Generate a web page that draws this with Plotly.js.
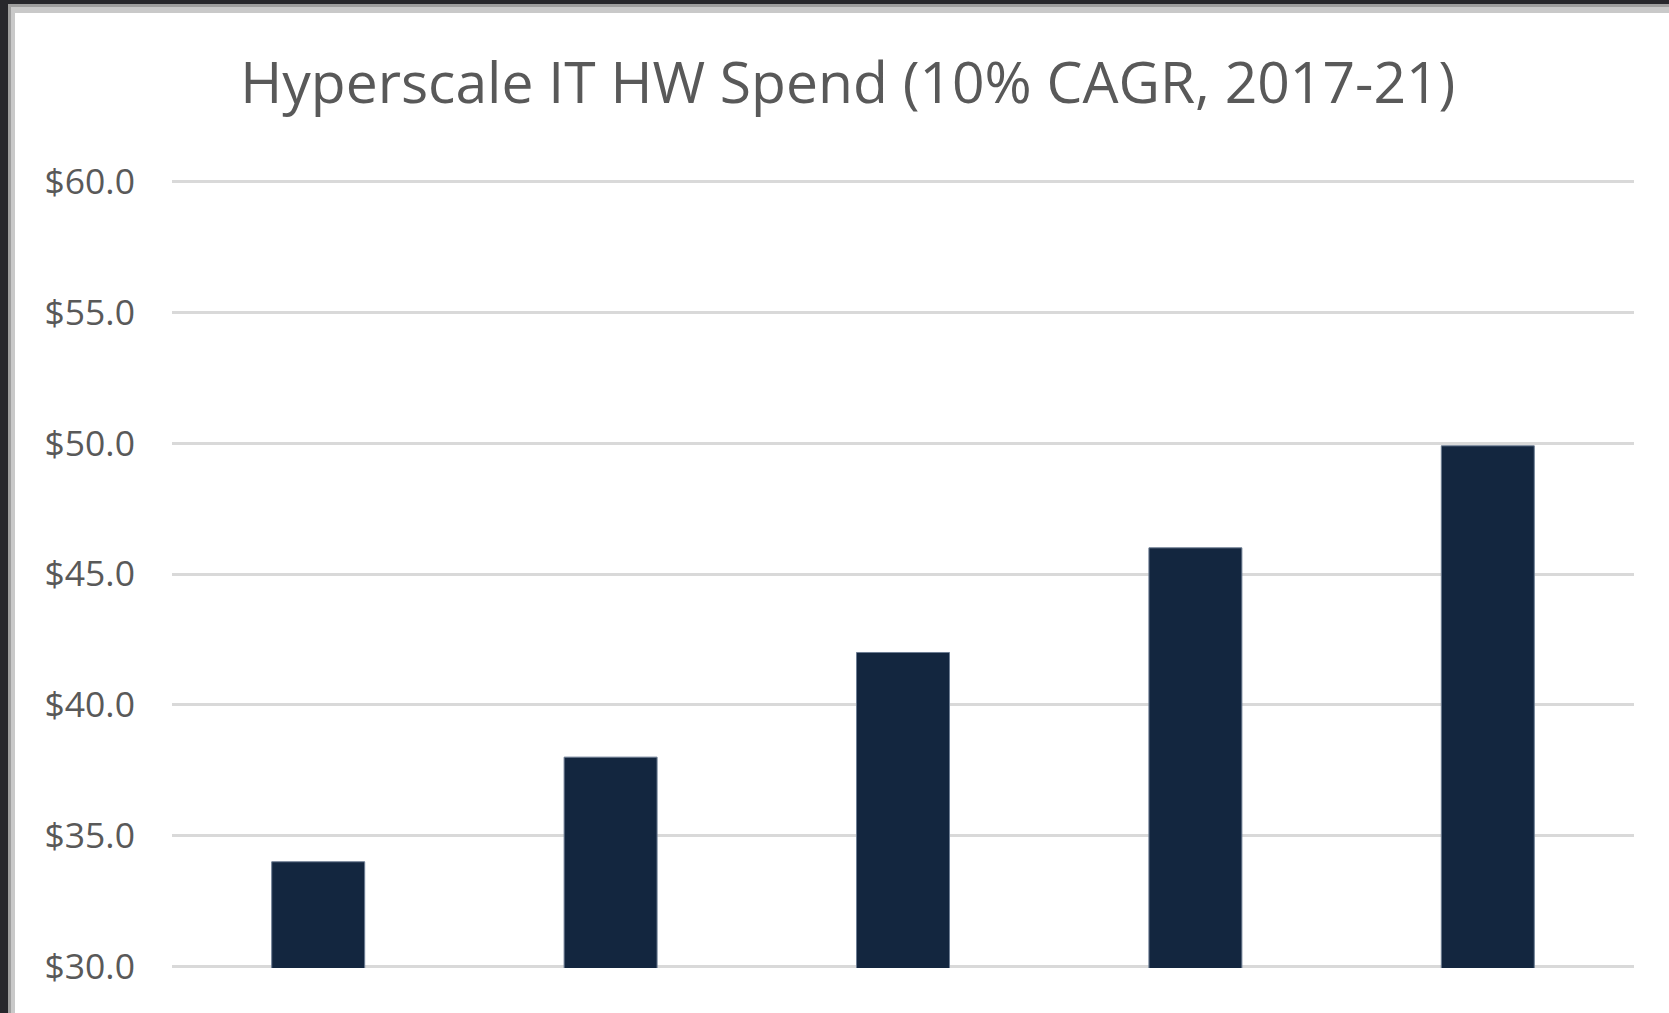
<!DOCTYPE html>
<html>
<head>
<meta charset="utf-8">
<script src="https://cdn.plot.ly/plotly-3.0.1.min.js"></script>
<style>
  html, body { margin: 0; padding: 0; background: #27272c; width: 1669px; height: 1013px; overflow: hidden; }
  #frame { position: absolute; left: 8px; top: 4px; width: 1661px; height: 1009px;
           background: #c9c9c9; border-left: 3px solid #9e9e9e; border-top: 3px solid #9e9e9e; box-sizing: border-box; }
  #chart { position: absolute; left: 15px; top: 13px; width: 1654px; height: 1000px; background: #ffffff; }
</style>
</head>
<body>
<div id="frame"></div>
<div id="chart"></div>
<script>
const years = ['2017', '2018', '2019', '2020', '2021'];
const spend = [34.0, 38.0, 42.0, 46.0, 49.9];
const tickValues = [30, 35, 40, 45, 50, 55, 60];
const tickLabels = ['$30.0', '$35.0', '$40.0', '$45.0', '$50.0', '$55.0', '$60.0'];
const chartTitle = 'Hyperscale IT HW Spend (10% CAGR, 2017-21)';

const trace = {
  type: 'bar',
  x: years,
  y: spend,
  marker: { color: '#13263f', line: { color: '#6d7d93', width: 1 } },
  hoverinfo: 'x+y'
};

const layout = {
  width: 1654,
  height: 1000,
  paper_bgcolor: '#ffffff',
  plot_bgcolor: '#ffffff',
  margin: { l: 157, r: 35, t: 167, b: 45 },
  bargap: 0.682,
  showlegend: false,
  font: { family: 'Open Sans, sans-serif', color: '#595959' },
  title: {
    text: chartTitle,
    font: { family: 'Open Sans, sans-serif', size: 57, color: '#595959' },
    xref: 'container', yref: 'container',
    x: 0.5035, xanchor: 'center',
    y: 0.93, yanchor: 'middle'
  },
  xaxis: {
    type: 'category',
    showticklabels: false,
    showgrid: false,
    zeroline: false,
    showline: false,
    ticks: ''
  },
  yaxis: {
    range: [29.94, 60.06],
    tickmode: 'array',
    tickvals: tickValues,
    ticktext: tickLabels,
    showgrid: true,
    gridcolor: '#d9d9d9',
    gridwidth: 3,
    zeroline: false,
    showline: false,
    ticks: '',
    ticklabelstandoff: 36,
    tickfont: { family: 'Open Sans, sans-serif', size: 35.5, color: '#595959' }
  }
};

Plotly.newPlot('chart', [trace], layout, { displayModeBar: false, staticPlot: true });
</script>
</body>
</html>
